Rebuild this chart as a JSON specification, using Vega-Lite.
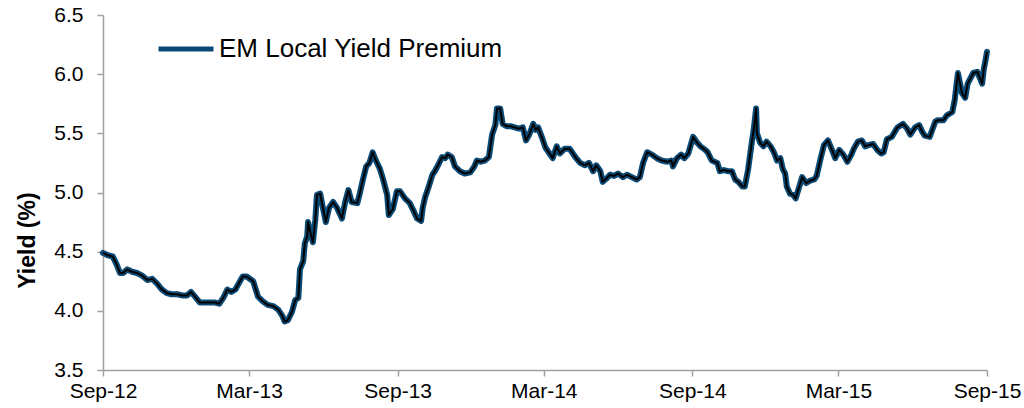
{
  "$schema": "https://vega.github.io/schema/vega-lite/v6.json",
  "width": 884,
  "height": 355,
  "autosize": {"type": "none"},
  "padding": {"left": 103, "top": 15, "right": 37, "bottom": 38},
  "background": "white",
  "config": {
    "view": {"stroke": null},
    "font": "Liberation Sans"
  },
  "data": {
    "values": [
      {"date": "2012-09-01", "yield": 4.49},
      {"date": "2012-09-07", "yield": 4.47},
      {"date": "2012-09-13", "yield": 4.46},
      {"date": "2012-09-18", "yield": 4.39},
      {"date": "2012-09-22", "yield": 4.32},
      {"date": "2012-09-26", "yield": 4.32},
      {"date": "2012-10-01", "yield": 4.35},
      {"date": "2012-10-07", "yield": 4.33},
      {"date": "2012-10-13", "yield": 4.32},
      {"date": "2012-10-19", "yield": 4.30},
      {"date": "2012-10-26", "yield": 4.26},
      {"date": "2012-11-01", "yield": 4.27},
      {"date": "2012-11-07", "yield": 4.23},
      {"date": "2012-11-13", "yield": 4.18},
      {"date": "2012-11-19", "yield": 4.15},
      {"date": "2012-11-25", "yield": 4.14},
      {"date": "2012-12-02", "yield": 4.14},
      {"date": "2012-12-08", "yield": 4.13},
      {"date": "2012-12-14", "yield": 4.13},
      {"date": "2012-12-19", "yield": 4.16},
      {"date": "2012-12-24", "yield": 4.12},
      {"date": "2012-12-30", "yield": 4.07},
      {"date": "2013-01-05", "yield": 4.07},
      {"date": "2013-01-12", "yield": 4.07},
      {"date": "2013-01-18", "yield": 4.07},
      {"date": "2013-01-23", "yield": 4.06},
      {"date": "2013-01-28", "yield": 4.11},
      {"date": "2013-02-02", "yield": 4.18},
      {"date": "2013-02-07", "yield": 4.16},
      {"date": "2013-02-12", "yield": 4.18},
      {"date": "2013-02-16", "yield": 4.23},
      {"date": "2013-02-21", "yield": 4.29},
      {"date": "2013-02-26", "yield": 4.29},
      {"date": "2013-03-06", "yield": 4.25},
      {"date": "2013-03-12", "yield": 4.12},
      {"date": "2013-03-18", "yield": 4.08},
      {"date": "2013-03-24", "yield": 4.05},
      {"date": "2013-03-31", "yield": 4.04},
      {"date": "2013-04-06", "yield": 4.01},
      {"date": "2013-04-11", "yield": 3.96},
      {"date": "2013-04-14", "yield": 3.91},
      {"date": "2013-04-18", "yield": 3.92},
      {"date": "2013-04-23", "yield": 3.99},
      {"date": "2013-04-27", "yield": 4.09},
      {"date": "2013-05-01", "yield": 4.11},
      {"date": "2013-05-03", "yield": 4.35},
      {"date": "2013-05-07", "yield": 4.42},
      {"date": "2013-05-09", "yield": 4.57},
      {"date": "2013-05-12", "yield": 4.63},
      {"date": "2013-05-13", "yield": 4.75},
      {"date": "2013-05-17", "yield": 4.63},
      {"date": "2013-05-19", "yield": 4.58},
      {"date": "2013-05-22", "yield": 4.77},
      {"date": "2013-05-24", "yield": 4.98},
      {"date": "2013-05-28", "yield": 4.99},
      {"date": "2013-06-01", "yield": 4.85},
      {"date": "2013-06-04", "yield": 4.75},
      {"date": "2013-06-08", "yield": 4.87},
      {"date": "2013-06-13", "yield": 4.92},
      {"date": "2013-06-18", "yield": 4.87},
      {"date": "2013-06-24", "yield": 4.78},
      {"date": "2013-06-28", "yield": 4.92},
      {"date": "2013-07-02", "yield": 5.02},
      {"date": "2013-07-06", "yield": 4.92},
      {"date": "2013-07-13", "yield": 4.91},
      {"date": "2013-07-16", "yield": 4.99},
      {"date": "2013-07-20", "yield": 5.11},
      {"date": "2013-07-24", "yield": 5.22},
      {"date": "2013-07-28", "yield": 5.25},
      {"date": "2013-08-01", "yield": 5.34},
      {"date": "2013-08-05", "yield": 5.27},
      {"date": "2013-08-10", "yield": 5.20},
      {"date": "2013-08-14", "yield": 5.11},
      {"date": "2013-08-19", "yield": 4.98},
      {"date": "2013-08-21", "yield": 4.81},
      {"date": "2013-08-26", "yield": 4.86},
      {"date": "2013-08-31", "yield": 5.01},
      {"date": "2013-09-04", "yield": 5.01},
      {"date": "2013-09-10", "yield": 4.95},
      {"date": "2013-09-16", "yield": 4.91},
      {"date": "2013-09-21", "yield": 4.84},
      {"date": "2013-09-25", "yield": 4.78},
      {"date": "2013-09-30", "yield": 4.76},
      {"date": "2013-10-02", "yield": 4.87},
      {"date": "2013-10-05", "yield": 4.96},
      {"date": "2013-10-09", "yield": 5.04},
      {"date": "2013-10-14", "yield": 5.15},
      {"date": "2013-10-17", "yield": 5.18},
      {"date": "2013-10-21", "yield": 5.23},
      {"date": "2013-10-26", "yield": 5.30},
      {"date": "2013-10-30", "yield": 5.29},
      {"date": "2013-11-02", "yield": 5.32},
      {"date": "2013-11-07", "yield": 5.30},
      {"date": "2013-11-11", "yield": 5.22},
      {"date": "2013-11-17", "yield": 5.18},
      {"date": "2013-11-23", "yield": 5.16},
      {"date": "2013-11-30", "yield": 5.17},
      {"date": "2013-12-05", "yield": 5.22},
      {"date": "2013-12-08", "yield": 5.27},
      {"date": "2013-12-13", "yield": 5.26},
      {"date": "2013-12-18", "yield": 5.27},
      {"date": "2013-12-23", "yield": 5.30},
      {"date": "2013-12-27", "yield": 5.49},
      {"date": "2013-12-31", "yield": 5.57},
      {"date": "2014-01-02", "yield": 5.71},
      {"date": "2014-01-06", "yield": 5.71},
      {"date": "2014-01-09", "yield": 5.58},
      {"date": "2014-01-14", "yield": 5.56},
      {"date": "2014-01-19", "yield": 5.56},
      {"date": "2014-01-24", "yield": 5.55},
      {"date": "2014-01-29", "yield": 5.54},
      {"date": "2014-02-03", "yield": 5.55},
      {"date": "2014-02-07", "yield": 5.44},
      {"date": "2014-02-11", "yield": 5.49},
      {"date": "2014-02-16", "yield": 5.58},
      {"date": "2014-02-19", "yield": 5.53},
      {"date": "2014-02-22", "yield": 5.55},
      {"date": "2014-02-27", "yield": 5.46},
      {"date": "2014-03-03", "yield": 5.38},
      {"date": "2014-03-07", "yield": 5.34},
      {"date": "2014-03-12", "yield": 5.29},
      {"date": "2014-03-17", "yield": 5.39},
      {"date": "2014-03-21", "yield": 5.33},
      {"date": "2014-03-27", "yield": 5.37},
      {"date": "2014-04-02", "yield": 5.37},
      {"date": "2014-04-09", "yield": 5.30},
      {"date": "2014-04-15", "yield": 5.25},
      {"date": "2014-04-21", "yield": 5.23},
      {"date": "2014-04-26", "yield": 5.25},
      {"date": "2014-05-01", "yield": 5.18},
      {"date": "2014-05-05", "yield": 5.23},
      {"date": "2014-05-10", "yield": 5.18},
      {"date": "2014-05-13", "yield": 5.09},
      {"date": "2014-05-18", "yield": 5.12},
      {"date": "2014-05-22", "yield": 5.15},
      {"date": "2014-05-27", "yield": 5.14},
      {"date": "2014-06-01", "yield": 5.16},
      {"date": "2014-06-07", "yield": 5.13},
      {"date": "2014-06-12", "yield": 5.15},
      {"date": "2014-06-18", "yield": 5.13},
      {"date": "2014-06-24", "yield": 5.11},
      {"date": "2014-06-28", "yield": 5.13},
      {"date": "2014-07-02", "yield": 5.25},
      {"date": "2014-07-07", "yield": 5.34},
      {"date": "2014-07-13", "yield": 5.32},
      {"date": "2014-07-19", "yield": 5.29},
      {"date": "2014-07-25", "yield": 5.27},
      {"date": "2014-08-01", "yield": 5.26},
      {"date": "2014-08-06", "yield": 5.27},
      {"date": "2014-08-08", "yield": 5.22},
      {"date": "2014-08-13", "yield": 5.29},
      {"date": "2014-08-18", "yield": 5.32},
      {"date": "2014-08-22", "yield": 5.29},
      {"date": "2014-08-27", "yield": 5.33},
      {"date": "2014-09-02", "yield": 5.47},
      {"date": "2014-09-07", "yield": 5.42},
      {"date": "2014-09-11", "yield": 5.39},
      {"date": "2014-09-17", "yield": 5.36},
      {"date": "2014-09-20", "yield": 5.34},
      {"date": "2014-09-25", "yield": 5.27},
      {"date": "2014-10-02", "yield": 5.25},
      {"date": "2014-10-05", "yield": 5.18},
      {"date": "2014-10-10", "yield": 5.19},
      {"date": "2014-10-15", "yield": 5.18},
      {"date": "2014-10-20", "yield": 5.18},
      {"date": "2014-10-24", "yield": 5.11},
      {"date": "2014-10-28", "yield": 5.09},
      {"date": "2014-11-02", "yield": 5.05},
      {"date": "2014-11-05", "yield": 5.05},
      {"date": "2014-11-09", "yield": 5.19},
      {"date": "2014-11-14", "yield": 5.44},
      {"date": "2014-11-16", "yield": 5.53},
      {"date": "2014-11-19", "yield": 5.71},
      {"date": "2014-11-20", "yield": 5.50},
      {"date": "2014-11-24", "yield": 5.42},
      {"date": "2014-11-28", "yield": 5.39},
      {"date": "2014-12-02", "yield": 5.43},
      {"date": "2014-12-07", "yield": 5.39},
      {"date": "2014-12-11", "yield": 5.34},
      {"date": "2014-12-15", "yield": 5.27},
      {"date": "2014-12-19", "yield": 5.29},
      {"date": "2014-12-22", "yield": 5.20},
      {"date": "2014-12-25", "yield": 5.16},
      {"date": "2014-12-27", "yield": 5.05},
      {"date": "2014-12-31", "yield": 4.99},
      {"date": "2015-01-04", "yield": 4.98},
      {"date": "2015-01-07", "yield": 4.95},
      {"date": "2015-01-11", "yield": 5.04},
      {"date": "2015-01-15", "yield": 5.13},
      {"date": "2015-01-20", "yield": 5.08},
      {"date": "2015-01-25", "yield": 5.10},
      {"date": "2015-01-30", "yield": 5.11},
      {"date": "2015-02-02", "yield": 5.14},
      {"date": "2015-02-07", "yield": 5.29},
      {"date": "2015-02-11", "yield": 5.40},
      {"date": "2015-02-16", "yield": 5.44},
      {"date": "2015-02-21", "yield": 5.36},
      {"date": "2015-02-25", "yield": 5.29},
      {"date": "2015-03-02", "yield": 5.36},
      {"date": "2015-03-07", "yield": 5.32},
      {"date": "2015-03-12", "yield": 5.26},
      {"date": "2015-03-17", "yield": 5.32},
      {"date": "2015-03-20", "yield": 5.37},
      {"date": "2015-03-25", "yield": 5.43},
      {"date": "2015-03-30", "yield": 5.44},
      {"date": "2015-04-03", "yield": 5.39},
      {"date": "2015-04-07", "yield": 5.40},
      {"date": "2015-04-13", "yield": 5.41},
      {"date": "2015-04-18", "yield": 5.36},
      {"date": "2015-04-23", "yield": 5.33},
      {"date": "2015-04-26", "yield": 5.34},
      {"date": "2015-04-30", "yield": 5.45},
      {"date": "2015-05-06", "yield": 5.47},
      {"date": "2015-05-13", "yield": 5.55},
      {"date": "2015-05-20", "yield": 5.58},
      {"date": "2015-05-25", "yield": 5.54},
      {"date": "2015-05-29", "yield": 5.49},
      {"date": "2015-06-04", "yield": 5.55},
      {"date": "2015-06-09", "yield": 5.57},
      {"date": "2015-06-13", "yield": 5.51},
      {"date": "2015-06-16", "yield": 5.48},
      {"date": "2015-06-22", "yield": 5.47},
      {"date": "2015-06-29", "yield": 5.60},
      {"date": "2015-07-02", "yield": 5.61},
      {"date": "2015-07-09", "yield": 5.61},
      {"date": "2015-07-13", "yield": 5.65},
      {"date": "2015-07-20", "yield": 5.68},
      {"date": "2015-07-23", "yield": 5.78},
      {"date": "2015-07-27", "yield": 6.01},
      {"date": "2015-08-01", "yield": 5.84},
      {"date": "2015-08-05", "yield": 5.80},
      {"date": "2015-08-08", "yield": 5.92},
      {"date": "2015-08-15", "yield": 6.01},
      {"date": "2015-08-20", "yield": 6.02},
      {"date": "2015-08-26", "yield": 5.92},
      {"date": "2015-08-28", "yield": 6.04},
      {"date": "2015-08-30", "yield": 6.11},
      {"date": "2015-09-01", "yield": 6.19}
    ]
  },
  "encoding": {
    "x": {
      "field": "date",
      "type": "temporal",
      "scale": {
        "type": "utc",
        "domain": [
          {"year": 2012, "month": 9, "date": 1, "utc": true},
          {"year": 2015, "month": 9, "date": 1, "utc": true}
        ]
      },
      "axis": {
        "title": null,
        "values": [
          {"year": 2012, "month": 9, "date": 1, "utc": true},
          {"year": 2013, "month": 3, "date": 1, "utc": true},
          {"year": 2013, "month": 9, "date": 1, "utc": true},
          {"year": 2014, "month": 3, "date": 1, "utc": true},
          {"year": 2014, "month": 9, "date": 1, "utc": true},
          {"year": 2015, "month": 3, "date": 1, "utc": true},
          {"year": 2015, "month": 9, "date": 1, "utc": true}
        ],
        "format": "%b-%y",
        "grid": false,
        "domainColor": "#A0A0A0",
        "domainWidth": 1.5,
        "tickColor": "#A0A0A0",
        "tickWidth": 1.5,
        "tickSize": 6,
        "labelFont": "Liberation Sans",
        "labelFontSize": 21,
        "labelColor": "#000000",
        "labelPadding": 4,
        "labelFlush": false,
        "labelOverlap": false
      }
    },
    "y": {
      "field": "yield",
      "type": "quantitative",
      "scale": {"domain": [3.5, 6.5], "zero": false, "nice": false},
      "axis": {
        "title": "Yield (%)",
        "values": [3.5, 4.0, 4.5, 5.0, 5.5, 6.0, 6.5],
        "format": ".1f",
        "grid": false,
        "domainColor": "#A0A0A0",
        "domainWidth": 1.5,
        "tickColor": "#A0A0A0",
        "tickWidth": 1.5,
        "tickSize": 6,
        "labelFont": "Liberation Sans",
        "labelFontSize": 21,
        "labelColor": "#000000",
        "labelPadding": 14,
        "titleFont": "Liberation Sans",
        "titleFontSize": 23,
        "titleFontWeight": "bold",
        "titleColor": "#000000",
        "titlePadding": 14,
        "titleY": 225
      }
    }
  },
  "layer": [
    {
      "mark": {"type": "line", "strokeWidth": 6, "strokeJoin": "round", "strokeCap": "round"},
      "encoding": {
        "color": {
          "datum": "EM Local Yield Premium",
          "type": "nominal",
          "scale": {"range": ["#0B4A75"]},
          "legend": {
            "title": null,
            "orient": "none",
            "legendX": 53,
            "legendY": 4,
            "symbolType": "stroke",
            "symbolSize": 3025,
            "symbolStrokeWidth": 5,
            "labelFont": "Liberation Sans",
            "labelFontSize": 26,
            "labelColor": "#000000",
            "labelOffset": 3,
            "labelLimit": 0
          }
        }
      }
    },
    {
      "mark": {"type": "line", "strokeWidth": 2, "color": "#000000", "strokeJoin": "round"},
      "encoding": {}
    }
  ]
}
